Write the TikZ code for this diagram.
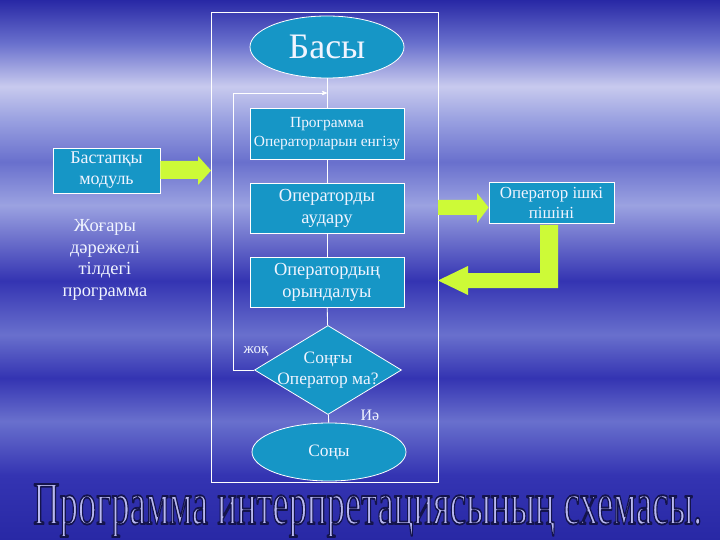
\documentclass[tikz,border=0pt]{standalone}
\usepackage{fontspec}
\setmainfont{Liberation Serif}
\usetikzlibrary{arrows,shapes.geometric,positioning}

\definecolor{boxfill}{RGB}{22,150,198}
\definecolor{blockarrow}{RGB}{205,250,55}
\definecolor{titlefill}{RGB}{185,185,240}
\definecolor{textwhite}{RGB}{240,244,255}
\definecolor{skydeep}{RGB}{40,40,165}
\definecolor{skyblue}{RGB}{52,52,178}
\definecolor{skymid}{RGB}{105,112,205}
\definecolor{skylight}{RGB}{155,162,225}
\definecolor{skywhite}{RGB}{200,202,238}

% sky background, bottom (25bp) to top (75bp)
\pgfdeclareverticalshading{sky}{100bp}{
  color(0bp)=(skydeep);
  color(25bp)=(skydeep);
  color(31bp)=(skyblue);
  color(36bp)=(skymid);
  color(40bp)=(skyblue);
  color(44bp)=(skymid);
  color(49bp)=(skyblue);
  color(56bp)=(skylight);
  color(60bp)=(skymid);
  color(64bp)=(skylight);
  color(67bp)=(skywhite);
  color(71bp)=(skymid);
  color(75bp)=(skydeep);
  color(100bp)=(skydeep)}

\tikzset{
  stepbox/.style={draw=white, line width=0.8bp, fill=boxfill, text=textwhite,
    minimum width=154bp, align=center, inner sep=2bp},
  terminal/.style={ellipse, draw=white, line width=0.8bp, fill=boxfill,
    text=textwhite, minimum width=154bp},
  flow/.style={draw=white, line width=0.8bp},
  fatarrow/.style={fill=blockarrow, draw=none}
}
% outlined title letters (fill + stroke)
\newcommand{\outlined}[1]{\special{pdf:code 2 Tr 0.3 w 1 j 0.08 0.08 0.3 RG}#1\special{pdf:code 0 Tr}}

\begin{document}
\begin{tikzpicture}[x=1bp,y=-1bp,>=stealth']
    \shade[shading=sky] (0,0) rectangle (720,540);
    \useasboundingbox (0,0) rectangle (720,540);

    % main frame
    \draw[flow] (211,12) rectangle (438,482);

    \node[terminal, minimum height=62bp, font=\fontsize{36}{40}\selectfont] (basy) at (327,47) {Басы};
    \node[stepbox, minimum height=51bp, font=\fontsize{15.5}{19}\selectfont] (prog) at (327,133.5) {Программа\\Операторларын енгізу};
    \node[stepbox, minimum height=50bp, font=\fontsize{18.5}{22}\selectfont] (aud) at (327,208) {Операторды\\аудару};
    \node[stepbox, minimum height=50bp, font=\fontsize{18.5}{22}\selectfont] (oryn) at (327,282) {Оператордың\\орындалуы};
    \node[diamond, draw=white, line width=0.8bp, fill=boxfill, minimum width=147bp, minimum height=89bp,
          inner sep=0pt, label={[text=textwhite, align=center, font=\fontsize{17.5}{21}\selectfont]center:Соңғы\\Оператор ма?}] (last) at (328,370) {};
    \node[terminal, minimum height=58bp, font=\fontsize{17.5}{21}\selectfont] (son) at (329,452) {Соңы};

    \node[text=textwhite, font=\fontsize{15}{18}\selectfont] (no) at (256,351) {жоқ};
    \node[text=textwhite, font=\fontsize{16}{19}\selectfont] (yes) at (370,415) {Иә};

    \node[stepbox, minimum width=107bp, minimum height=45bp, font=\fontsize{18}{21}\selectfont] (bast) at (106.5,170.5) {Бастапқы\\модуль};
    \node[text=textwhite, align=center, font=\fontsize{18.5}{21.5}\selectfont] (high) at (105,260) {Жоғары\\дәрежелі\\тілдегі\\программа};
    \node[stepbox, minimum width=125bp, minimum height=41bp, inner sep=1bp, font=\fontsize{17}{20}\selectfont] (inner) at (551.5,202.5) {Оператор ішкі\\пішіні};

    % flow lines
    \coordinate (turn) at (327,93);
    \coordinate (nw) at (233,93);
    \coordinate (sw) at (233,370);
    \draw[flow] (basy) -- (prog);
    \draw[flow] (prog) -- (aud);
    \draw[flow] (aud) -- (oryn);
    \draw[flow] (oryn) -- (last);
    \draw[flow] (last) -- (son);
    \draw[flow, ->] (last.west) -- (sw) -- (nw) -- (turn);

    % block arrows
    \fill[fatarrow] (bast.east |- 0,161) -- (198,161) -- (198,156) -- (211,170.5)
        -- (198,185) -- (198,179) -- (bast.east |- 0,179) -- cycle;
    \fill[fatarrow] (438,200) -- (477,200) -- (477,193) -- (inner.west |- 0,207.5)
        -- (477,223) -- (477,215) -- (438,215) -- cycle;
    \fill[fatarrow] (540,225) -- (558,225) -- (558,288) -- (468,288) -- (468,295)
        -- (438,280.5) -- (468,266) -- (468,273) -- (540,273) -- cycle;

    % title
    \node[anchor=base west, inner sep=0pt, text=titlefill] (title) at (33,524)
        {\resizebox{669bp}{40bp}{\outlined{Программа интерпретациясының схемасы.}}};
\end{tikzpicture}
\end{document}
